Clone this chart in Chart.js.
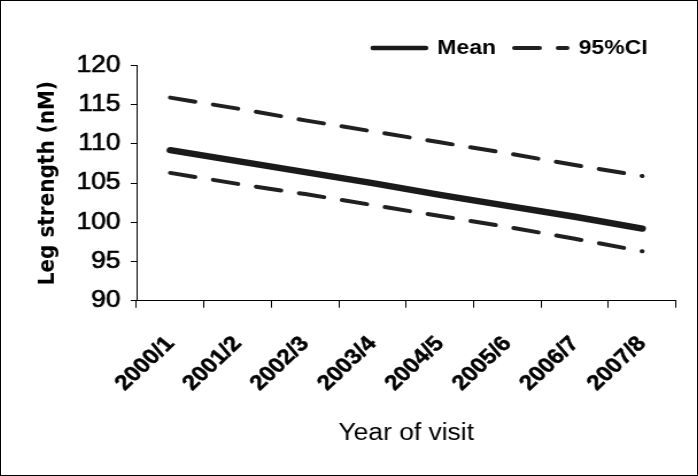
<!DOCTYPE html>
<html><head><meta charset="utf-8">
<script src="https://cdn.jsdelivr.net/npm/chart.js@4.4.0/dist/chart.umd.min.js"></script>
<style>
html,body{margin:0;padding:0;background:#fff;}
#frame{width:698px;height:476px;box-sizing:border-box;border:1px solid #000;overflow:hidden;background:#fff;}
#c{display:block;}
</style></head><body>
<div id="frame"><canvas id="c" width="606" height="474" style="width:696px;height:474px"></canvas></div>
<script>
const categories = ['2000/1','2001/2','2002/3','2003/4','2004/5','2005/6','2006/7','2007/8'];
const meanValues = [109.2, 107.8, 106.4, 105.0, 103.5, 102.1, 100.7, 99.2];
const upperCI   = [115.9, 114.5, 113.0, 111.6, 110.2, 108.8, 107.3, 105.9];
const lowerCI   = [106.3, 104.9, 103.6, 102.2, 100.8, 99.4, 97.9, 96.3];
const yTickMin = 90, yTickMax = 120, yTickStep = 5;
const seriesNames = ['Mean', '95%CI'];

const FONT = "'Liberation Sans', Arial, sans-serif";
const CI_DASH = [22, 16];

const legendNudge = {
  id: 'legendNudge',
  afterLayout(chart, args, opts) {
    const l = chart.legend;
    if (!l) return;
    l.left += opts.dx; l.right += opts.dx;
    l.top += opts.dy; l.bottom += opts.dy;
  }
};

new Chart(document.getElementById('c'), {
  type: 'line',
  data: {
    labels: categories,
    datasets: [
      { label: seriesNames[0], data: meanValues, borderColor: '#1a1a1a', backgroundColor: '#1a1a1a',
        borderWidth: 6.5, pointRadius: 0, borderCapStyle: 'round', tension: 0, fill: false },
      { label: seriesNames[1], data: upperCI, borderColor: '#202020', backgroundColor: '#202020',
        borderWidth: 4, borderDash: CI_DASH, borderCapStyle: 'round', pointRadius: 0, tension: 0, fill: false },
      { label: seriesNames[1] + ' lower', data: lowerCI, borderColor: '#202020', backgroundColor: '#202020',
        borderWidth: 4, borderDash: CI_DASH, borderCapStyle: 'round', pointRadius: 0, tension: 0, fill: false }
    ]
  },
  options: {
    responsive: false,
    devicePixelRatio: 1,
    animation: false,
    layout: { padding: { top: 18.5, right: 18.3, bottom: 0, left: 0 } },
    plugins: {
      legend: {
        position: 'top', align: 'end',
        labels: {
          usePointStyle: true, pointStyle: 'line', pointStyleWidth: 46, padding: 16,
          color: '#000', font: { family: FONT, size: 20, weight: 'bold' },
          filter: (item, data) => {
            const ds = data.datasets[item.datasetIndex];
            item.lineDash = ds.borderDash || [];
            item.lineCap = 'round';
            item.lineWidth = item.datasetIndex === 0 ? 4.5 : 4;
            return item.datasetIndex < 2;
          }
        }
      },
      tooltip: { enabled: false },
      legendNudge: { dx: -8.7, dy: 2.5 }
    },
    scales: {
      x: {
        offset: true,
        grid: { offset: true, drawOnChartArea: false, drawTicks: true, tickLength: 7, color: '#000', lineWidth: 1 },
        border: { display: true, color: '#000', width: 1 },
        ticks: { autoSkip: false, minRotation: 47, maxRotation: 47, padding: 24, color: '#000',
                 textStrokeColor: '#000', textStrokeWidth: 0.5,
                 font: { family: FONT, size: 21, weight: 'bold' } },
        title: { display: true, text: 'Year of visit', color: '#000',
                 font: { family: FONT, size: 23 }, padding: { top: 0, bottom: 27.8 } },
        afterFit: (s) => { s.height = 174.3; }
      },
      y: {
        min: yTickMin, max: yTickMax,
        ticks: { stepSize: yTickStep, padding: 9, color: '#000',
                 textStrokeColor: '#000', textStrokeWidth: 0.6,
                 font: { family: FONT, size: 23 } },
        grid: { drawOnChartArea: false, drawTicks: true, tickLength: 5, color: '#000', lineWidth: 1 },
        border: { display: true, color: '#000', width: 1 },
        title: { display: true, text: 'Leg strength (nM)', color: '#000',
                 font: { family: "'DejaVu Sans', sans-serif", size: 20, weight: 'bold' },
                 padding: { top: 29, bottom: 0 } },
        afterFit: (s) => { s.width = 118; }
      }
    }
  },
  plugins: [legendNudge]
});
</script>
</body></html>
